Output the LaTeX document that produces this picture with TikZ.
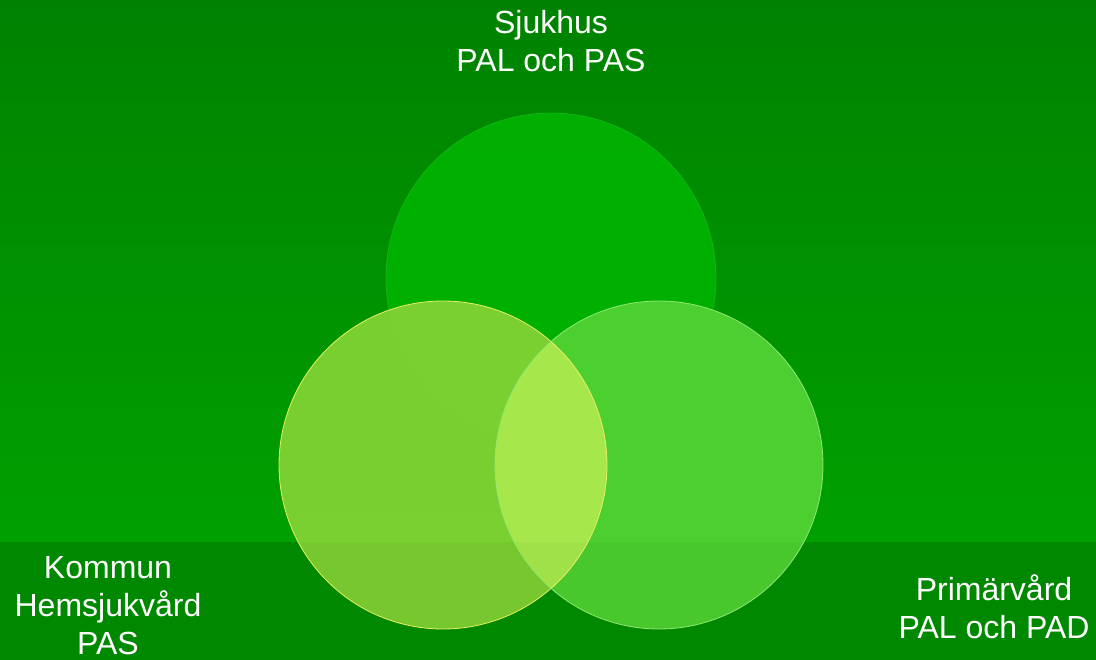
\documentclass[tikz,border=0pt]{standalone}
\usepackage{fontspec}
\setmainfont{Liberation Sans}
\usepackage{tikz}
\usetikzlibrary{positioning}
\definecolor{bgtop}{HTML}{008200}
\definecolor{bgmid}{HTML}{00A000}
\definecolor{band}{HTML}{008E00}
\definecolor{hosp}{HTML}{00B200}
\definecolor{kommun}{HTML}{80D232}
\definecolor{prim}{HTML}{50D232}
\definecolor{overlap}{HTML}{A6E84C}
\definecolor{rimyel}{HTML}{E8F060}
\definecolor{rimgrn}{HTML}{90E870}
\definecolor{rimtop}{HTML}{20C020}

\begin{document}
\begin{tikzpicture}[x=1pt,y=-1pt,
  lbl/.style={text=white,font=\fontsize{32}{38}\selectfont,align=center,inner sep=0pt},
  ring/.style={line width=0.8pt}]
  \useasboundingbox (0,0) rectangle (1096,660);
  % background
  \shade[top color=bgtop,bottom color=bgmid] (0,0) rectangle (1096,542);
  \fill[band] (0,542) rectangle (1096,660);
  \coordinate (cS) at (551,278);
  \coordinate (cK) at (443,465);
  \coordinate (cP) at (659,465);
  % circles
  \fill[hosp,opacity=0.95] (cS) circle (165pt);
  \draw[ring,rimtop,opacity=0.6] (cS) circle (165pt);
  \fill[kommun,opacity=0.96] (cK) circle (164pt);
  \fill[prim,opacity=0.96] (cP) circle (164pt);
  \begin{scope}
    \clip (cK) circle (164pt);
    \fill[overlap] (cP) circle (164pt);
  \end{scope}
  \fill[black,opacity=0.03] (0,542) rectangle (1096,660);
  \draw[ring,rimyel] (cK) circle (164pt);
  \draw[ring,rimgrn] (cP) circle (164pt);
  % labels
  \node[lbl] (sjukhus) at (551,41) {Sjukhus\\PAL och PAS};
  \node[lbl] (kommun) at (108,606) {Kommun\\Hemsjukvård\\PAS};
  \node[lbl] (primar) at (994,607) {Primärvård\\PAL och PAD};
\end{tikzpicture}
\end{document}
